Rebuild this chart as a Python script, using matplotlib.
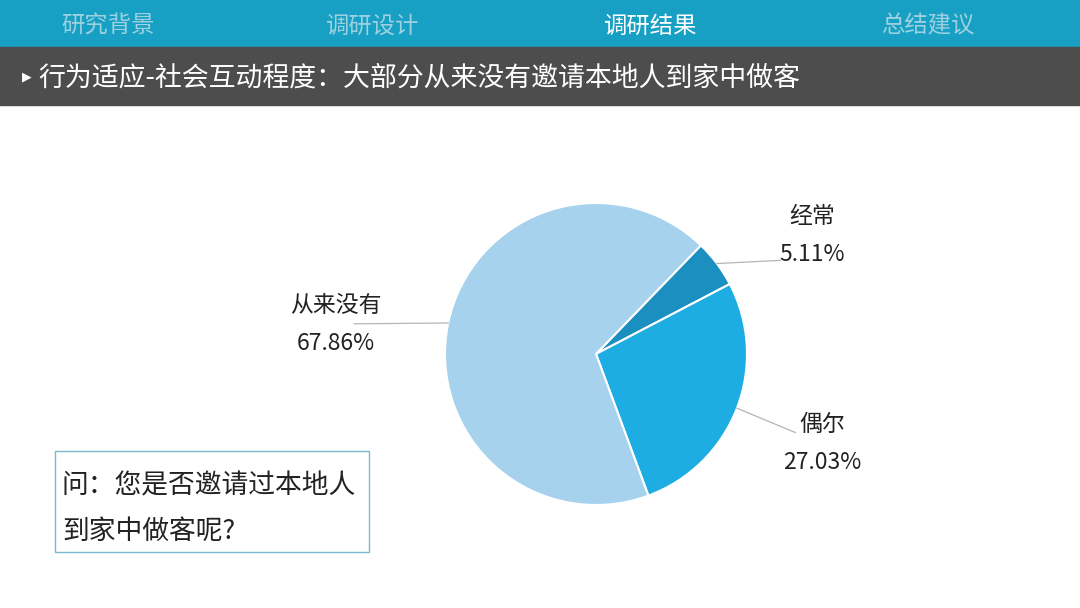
import numpy as np
import matplotlib.pyplot as plt
from matplotlib.patches import Rectangle

plt.rcParams['font.family'] = ['Noto Sans CJK SC', 'DejaVu Sans']

# data
labels = ['经常', '偶尔', '从来没有']
values = [5.11, 27.03, 67.86]
colors = ['#1a8fc0', '#1eade3', '#a6d2ee']
tabs = ['研究背景', '调研设计', '调研结果', '总结建议']
active_tab = '调研结果'
title = '行为适应-社会互动程度：大部分从来没有邀请本地人到家中做客'
question = ['问：您是否邀请过本地人', '到家中做客呢?']

W, H = 1080, 608
fig = plt.figure(figsize=(W / 100, H / 100), dpi=100)
fig.patch.set_facecolor('white')

# page-level overlay in pixel coordinates (y down)
bg = fig.add_axes([0, 0, 1, 1])
bg.set_xlim(0, W)
bg.set_ylim(H, 0)
bg.axis('off')

# top tab bar
bg.add_patch(Rectangle((0, 0), W, 47, color='#17a0c4', zorder=0))
tab_x = [108, 373, 651, 929]
for x, t in zip(tab_x, tabs):
    c = 'white' if t == active_tab else '#9dd1e0'
    bg.text(x, 26, t, color=c, fontsize=16.8, ha='center', va='center')

# title bar
bg.add_patch(Rectangle((0, 47), W, 58, color='#4d4d4d', zorder=0))
bg.text(27, 77, '▶', color='white', fontsize=9, ha='center', va='center',
        family=['DejaVu Sans'])
bg.text(38, 78, title, color='white', fontsize=19.4, ha='left', va='center')

# question box
bg.add_patch(Rectangle((55, 451), 314, 101, fill=False,
                       edgecolor='#7ab9cc', linewidth=1.0))
bg.text(62, 486, question[0], color='#222222', fontsize=19.3, ha='left', va='center')
bg.text(62, 531, question[1], color='#222222', fontsize=19.3, ha='left', va='center')

# pie
cx, cy, r = 596, 354, 151
ax = fig.add_axes([(cx - r) / W, (H - cy - r) / H, 2 * r / W, 2 * r / H])
wedges, _ = ax.pie(values, colors=colors, startangle=46, counterclock=False,
                   radius=1.0,
                   wedgeprops=dict(edgecolor='white', linewidth=1.5))
ax.set_xlim(-1, 1)
ax.set_ylim(-1, 1)
ax.set_aspect('equal')

# label layout per slice: leader end point and text anchor (axes data units)
line_end = [(1.22, 0.62), (1.32, -0.52), (-1.6, 0.2)]
text_pos = [(1.43, 0.91), (1.50, -0.47), (-1.72, 0.32)]
for w, lab, v, le, tp in zip(wedges, labels, values, line_end, text_pos):
    ang = np.deg2rad((w.theta1 + w.theta2) / 2)
    x0, y0 = np.cos(ang), np.sin(ang)
    ax.plot([x0, le[0]], [y0, le[1]], color='#b5b5b5', linewidth=0.9,
            clip_on=False, zorder=1)
    ax.text(tp[0], tp[1], lab, fontsize=16.5, color='#222222',
            ha='center', va='center', clip_on=False)
    ax.text(tp[0], tp[1] - 0.25, f'{v:.2f}%', fontsize=16.5, color='#222222',
            ha='center', va='center', clip_on=False)

fig.savefig('out.png', dpi=100, facecolor='white')
